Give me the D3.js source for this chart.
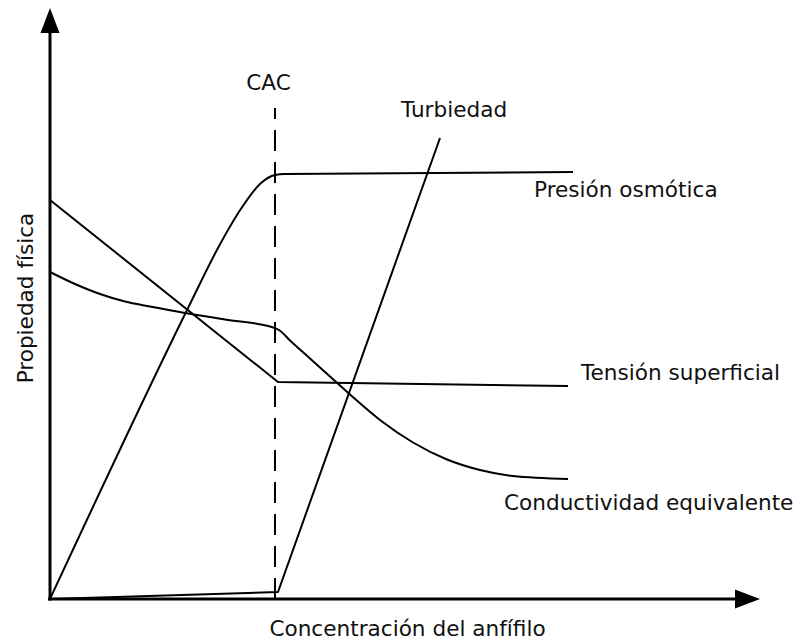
<!DOCTYPE html>
<html><head><meta charset="utf-8">
<script src="https://cdn.jsdelivr.net/npm/d3@7"></script>
<style>
html,body{margin:0;padding:0;background:#fff;}
svg{display:block;}
text{font-family:"DejaVu Sans",Verdana,sans-serif;font-size:21.6px;fill:#111;}
</style>
</head><body>
<svg id="c" width="799" height="640"></svg>
<script>
// ---- data ----
const xLabel = "Concentración del anfífilo";
const yLabel = "Propiedad física";
const cacLabel = "CAC";
const cacValue = 45;
const presionX = [0, 28, 33.6, 38.3, 42.1, 45, 47, 104.6];
const presionY = [0, 59, 70.2, 78.2, 83.1, 84.8, 85.0, 85.4];
const tensionX = [0, 45.6, 103.6];
const tensionY = [79.8, 43.4, 42.6];
const conductX = [0, 5, 10, 15, 20, 27, 35, 44.6, 45.8, 48, 52, 56, 60, 66, 72.6, 79.4, 86, 92.6, 103.6];
const conductY = [65.4, 63.0, 61.0, 59.5, 58.5, 57.2, 55.9, 54.3, 53.8, 51.7, 48.1, 44.5, 40.9, 35.8, 31.3, 27.9, 25.8, 24.6, 24];
const turbX = [0, 45.6, 78];
const turbY = [0, 1.4, 92.2];
const seriesLabels = ["Presión osmótica", "Tensión superficial", "Conductividad equivalente", "Turbiedad"];
const xMax = 142, yMax = 118.2;

// ---- drawing ----
const svg = d3.select("#c");
const x = d3.scaleLinear().domain([0, xMax]).range([50, 760]);
const y = d3.scaleLinear().domain([0, yMax]).range([599, 8]);
const zip = (xs, ys) => xs.map((v, i) => [v, ys[i]]);

const lineSmooth = d3.line().x(d => x(d[0])).y(d => y(d[1])).curve(d3.curveMonotoneX);
const lineStraight = d3.line().x(d => x(d[0])).y(d => y(d[1]));

// CAC dashed line (drawn bottom to top)
svg.append("line")
  .attr("x1", x(cacValue)).attr("x2", x(cacValue))
  .attr("y1", y(0)).attr("y2", y(98.2))
  .attr("stroke", "#000").attr("stroke-width", 2)
  .attr("stroke-dasharray", "21,11");

const curves = [
  {pts: zip(presionX, presionY), gen: lineSmooth},
  {pts: zip(tensionX, tensionY), gen: lineStraight},
  {pts: zip(conductX, conductY), gen: lineSmooth},
  {pts: zip(turbX, turbY), gen: lineStraight}
];
svg.selectAll("path.series").data(curves).enter().append("path")
  .attr("class", "series")
  .attr("d", d => d.gen(d.pts))
  .attr("fill", "none").attr("stroke", "#000").attr("stroke-width", 2)
  .attr("stroke-linejoin", "round");

// axes
const ax = svg.append("g");
ax.append("line").attr("x1", x(0) - 2).attr("x2", x(xMax) - 20).attr("y1", y(0)).attr("y2", y(0))
  .attr("stroke", "#000").attr("stroke-width", 3);
ax.append("line").attr("x1", x(0)).attr("x2", x(0)).attr("y1", y(0) + 1.5).attr("y2", y(yMax) + 20)
  .attr("stroke", "#000").attr("stroke-width", 3);
ax.append("path")
  .attr("d", `M${x(xMax)},${y(0)} L${x(xMax) - 25},${y(0) - 9.5} L${x(xMax) - 25},${y(0) + 9.5} Z`)
  .attr("fill", "#000");
ax.append("path")
  .attr("d", `M${x(0)},${y(yMax)} L${x(0) - 9.5},${y(yMax) + 25} L${x(0) + 9.5},${y(yMax) + 25} Z`)
  .attr("fill", "#000");

// texts
svg.append("text").attr("x", 407.5).attr("y", 636).attr("text-anchor", "middle").text(xLabel);
svg.append("text").attr("transform", "translate(33,298) rotate(-90)").attr("text-anchor", "middle").text(yLabel);
svg.append("text").attr("x", 268.5).attr("y", 90).attr("text-anchor", "middle").text(cacLabel);

const labelPos = [[534, 197], [581, 380], [504, 510], [401, 117]];
svg.selectAll("text.lab").data(seriesLabels).enter().append("text")
  .attr("class", "lab")
  .attr("x", (d, i) => labelPos[i][0]).attr("y", (d, i) => labelPos[i][1])
  .text(d => d);
</script>
</body></html>
